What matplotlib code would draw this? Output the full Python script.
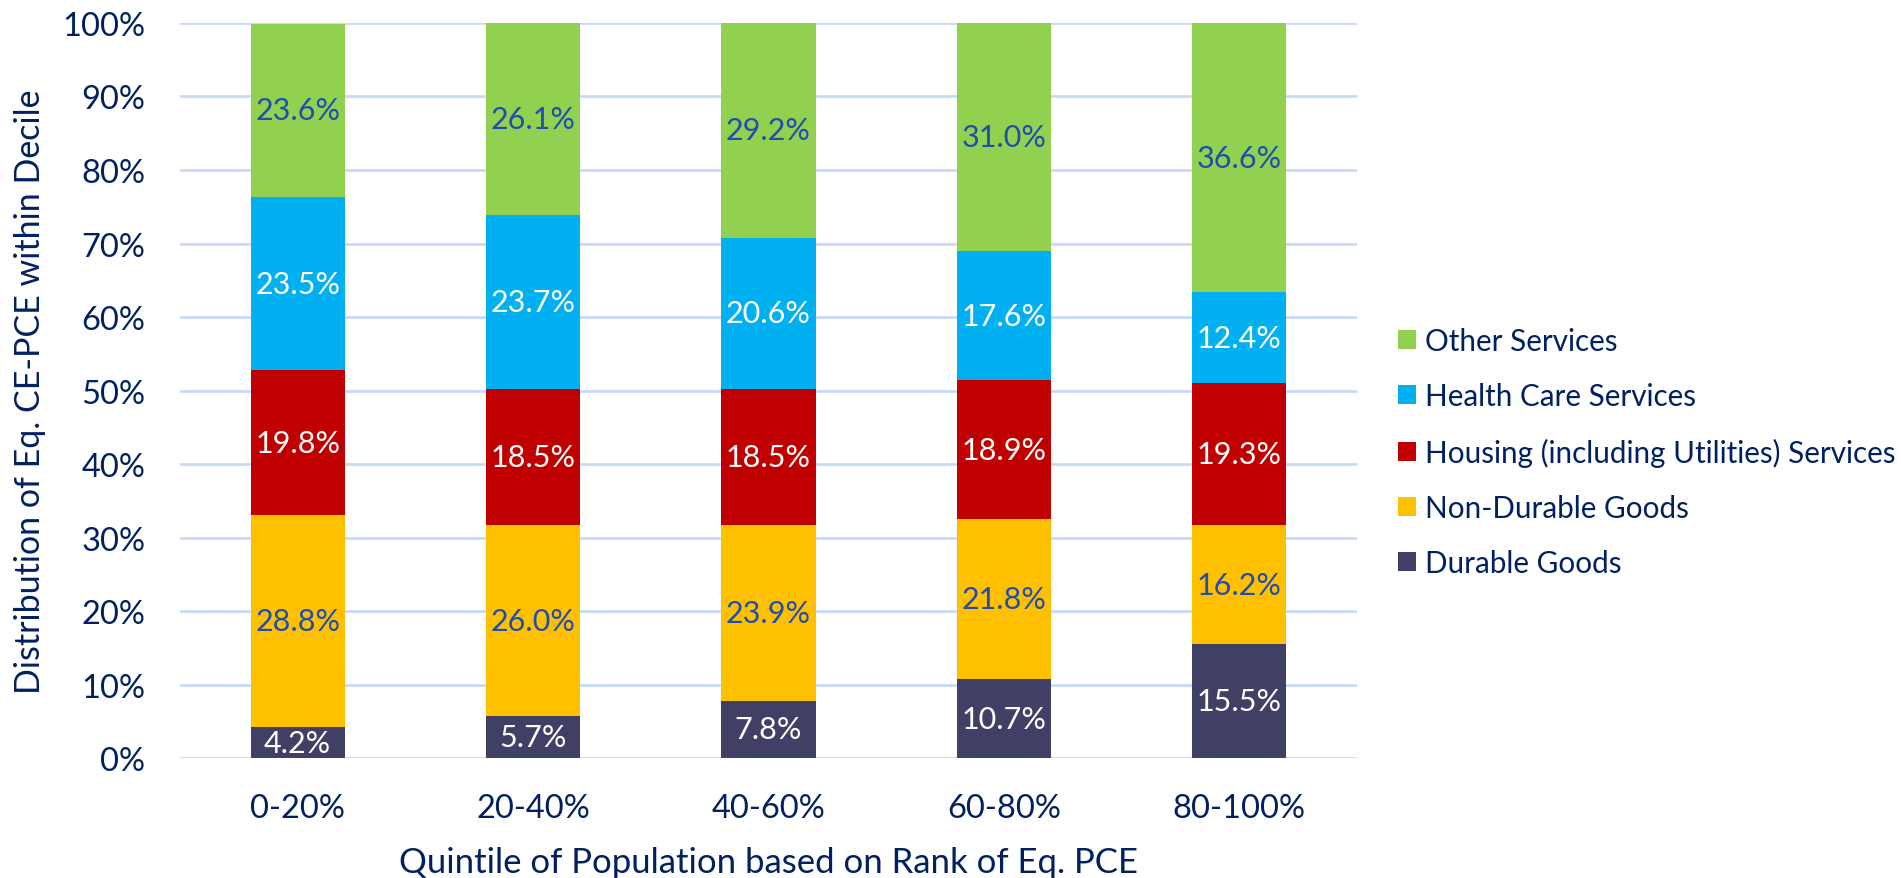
import matplotlib.pyplot as plt
import numpy as np

plt.rcParams['font.family'] = ['Lato', 'DejaVu Sans']

quintiles = ['0-20%', '20-40%', '40-60%', '60-80%', '80-100%']
series = ['Durable Goods', 'Non-Durable Goods',
          'Housing (including Utilities) Services',
          'Health Care Services', 'Other Services']
durable = [4.2, 5.7, 7.8, 10.7, 15.5]
non_durable = [28.8, 26.0, 23.9, 21.8, 16.2]
housing = [19.8, 18.5, 18.5, 18.9, 19.3]
health = [23.5, 23.7, 20.6, 17.6, 12.4]
other = [23.6, 26.1, 29.2, 31.0, 36.6]

colors = ['#404066', '#FFC000', '#C00000', '#00B0F0', '#92D050']
label_colors = ['white', '#1F4EAD', 'white', 'white', '#1F4EAD']
navy = '#002060'


def plot():
    fig = plt.figure(figsize=(19.01, 8.79), dpi=100)
    ax = fig.add_axes([0.0947, 0.1365, 0.6191, 0.8362])
    x = np.arange(len(quintiles))
    bottom = np.zeros(len(quintiles))
    for name, vals, c, lc in zip(series, [durable, non_durable, housing, health, other],
                                 colors, label_colors):
        vals = np.array(vals)
        b = ax.bar(x, vals, 0.4, bottom=bottom, color=c, label=name, zorder=3)
        ax.bar_label(b, labels=['%.1f%%' % v for v in vals], label_type='center',
                     color=lc, fontsize=22)
        bottom += vals

    ax.set_xlim(-0.5, 4.5)
    ax.set_ylim(0, 100)
    ax.set_yticks(np.arange(0, 101, 10))
    ax.set_yticklabels(['%d%%' % v for v in range(0, 101, 10)])
    ax.set_xticks(x)
    ax.set_xticklabels(quintiles)
    ax.tick_params(axis='y', length=0, pad=25, labelsize=23.5, labelcolor=navy)
    ax.tick_params(axis='x', length=0, pad=25, labelsize=23.5, labelcolor=navy)
    ax.grid(axis='y', color='#C9DAF8', linewidth=2, zorder=0)
    for s in ax.spines.values():
        s.set_visible(False)

    ax.set_xlabel('Quintile of Population based on Rank of Eq. PCE',
                  fontsize=25, color=navy, labelpad=17)
    ax.set_ylabel('Distribution of Eq. CE-PCE within Decile',
                  fontsize=24.5, color=navy, labelpad=12)

    handles, labels = ax.get_legend_handles_labels()
    leg = fig.legend(handles[::-1], labels[::-1], loc='center left',
                     bbox_to_anchor=(0.7212, 0.4846), frameon=False,
                     fontsize=21.3, handlelength=0.61, handleheight=0.61,
                     handletextpad=0.3, labelspacing=0.92)
    for t in leg.get_texts():
        t.set_color(navy)
    return fig


if __name__ == '__main__':
    fig = plot()
    fig.savefig('out.png', dpi=100)
